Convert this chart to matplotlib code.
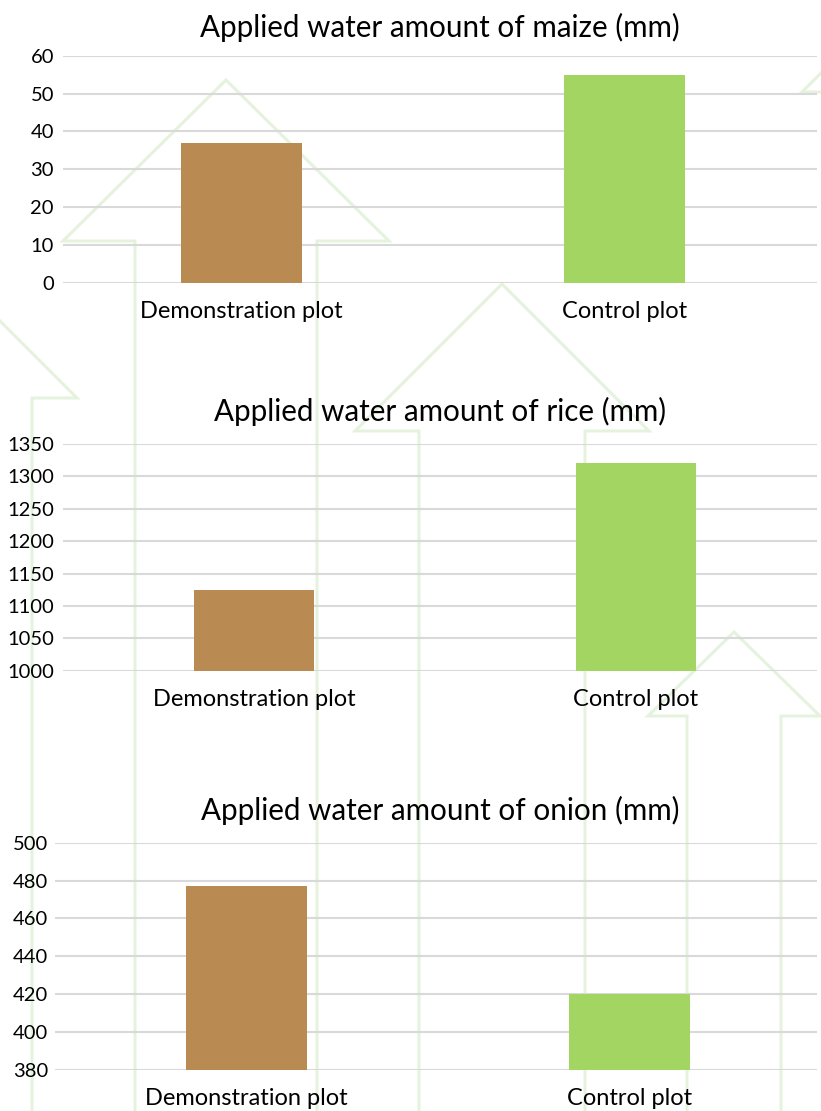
import matplotlib
matplotlib.use("Agg")
import matplotlib.pyplot as plt

plt.rcParams['font.family'] = ['Lato', 'DejaVu Sans']

categories = ["Demonstration plot", "Control plot"]
maize_values = [37, 55]
rice_values = [1125, 1320]
onion_values = [477, 420]
titles = ["Applied water amount of maize (mm)",
          "Applied water amount of rice (mm)",
          "Applied water amount of onion (mm)"]
maize_ticks = [0, 10, 20, 30, 40, 50, 60]
rice_ticks = [1000, 1050, 1100, 1150, 1200, 1250, 1300, 1350]
onion_ticks = [380, 400, 420, 440, 460, 480, 500]

bar_colors = ["#B98A52", "#A2D562"]
grid_color = "#D9D9D9"
arrow_color = "#E5F2DD"

W, H = 821, 1111
fig = plt.figure(figsize=(W / 100, H / 100), dpi=100)

# background decorative arrows (pixel coordinates)
bg = fig.add_axes([0, 0, 1, 1], zorder=0)
bg.set_xlim(0, W)
bg.set_ylim(H, 0)
bg.axis('off')

def up_arrow(cx, ty, by, hh, sh):
    xs = [cx - sh, cx - sh, cx - hh, cx, cx + hh, cx + sh, cx + sh]
    ys = [H + 20, by, by, ty, by, by, H + 20]
    bg.plot(xs, ys, color=arrow_color, lw=2.2, solid_joinstyle='miter')

up_arrow(226, 80, 241, 163, 91)
up_arrow(502, 284, 431, 147, 83)
up_arrow(734, 632, 716, 86, 47)
up_arrow(-25, 296, 398, 102, 57)
up_arrow(900, -6, 92, 98, 55)

def px_axes(left, right, top, bottom):
    return fig.add_axes([left / W, 1 - bottom / H, (right - left) / W, (bottom - top) / H], zorder=1)

panels = [
    (maize_values, maize_ticks, titles[0], (63, 817, 55.7, 282.7), (-0.466, 1.503), 27),
    (rice_values, rice_ticks, titles[1], (63, 817, 444, 670.7), (-0.5, 1.474), 411),
    (onion_values, onion_ticks, titles[2], (55, 817, 842.7, 1069.7), (-0.5, 1.49), 810),
]

for vals, ticks, title, box, xl, ty in panels:
    ax = px_axes(*box)
    ax.set_facecolor('none')
    x = range(len(categories))
    base = ticks[0]
    ax.bar(x, [v - base for v in vals], bottom=base, width=0.316,
           color=bar_colors, zorder=3)
    ax.set_ylim(ticks[0], ticks[-1])
    ax.set_xlim(*xl)
    ax.set_yticks(ticks)
    ax.set_yticklabels([str(t) for t in ticks])
    ax.set_xticks(list(x))
    ax.set_xticklabels(categories)
    ax.yaxis.grid(True, color=grid_color, lw=1.5, zorder=0)
    ax.set_axisbelow(True)
    for s in ax.spines.values():
        s.set_visible(False)
    ax.tick_params(axis='both', length=0, colors='black')
    ax.tick_params(axis='y', labelsize=14.5, pad=6.5 if box[0] > 60 else 5)
    ax.tick_params(axis='x', labelsize=17, pad=13.3)
    fig.text(440 / W, 1 - ty / H, title, ha='center', va='center', fontsize=21.3)

fig.savefig("out.png", dpi=100)
